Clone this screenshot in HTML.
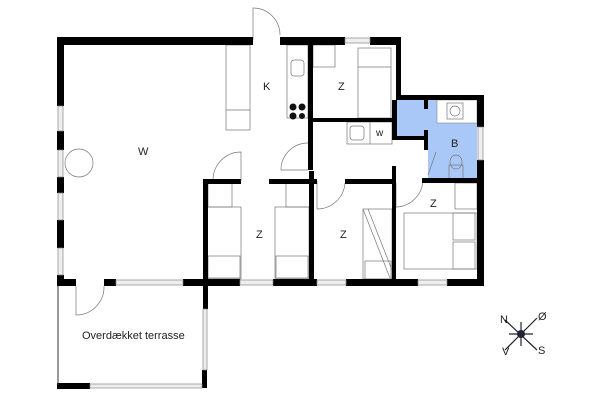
<!DOCTYPE html><html><head><style>body{margin:0;background:#fff}svg{display:block}text{font-family:"Liberation Sans",sans-serif;font-size:11px;fill:#222}</style></head><body>
<svg width="600" height="400" viewBox="0 0 600 400" xmlns="http://www.w3.org/2000/svg">
<path d="M397 100 H477 V179 H428 V137 H397 Z" fill="#a9c8f7"/>
<rect x="437" y="100" width="40" height="23" fill="#fff" stroke="#888" stroke-width=".6"/>
<g fill="none" stroke="#777" stroke-width=".7">
<rect x="226" y="45" width="24" height="85"/><line x1="226" y1="110" x2="250" y2="110"/>
<rect x="287" y="45" width="21" height="73"/><rect x="291" y="60" width="13" height="16" rx="3"/>
<rect x="313" y="45" width="22" height="22"/>
<rect x="358" y="48" width="33" height="70"/><line x1="358" y1="67" x2="391" y2="67"/>
<rect x="347" y="122" width="45" height="22"/><line x1="370" y1="122" x2="370" y2="144"/><rect x="350" y="126" width="14" height="14" rx="3"/>
<rect x="447" y="103" width="16" height="16"/><circle cx="455" cy="111" r="5"/>
<rect x="449" y="165" width="14" height="14"/><ellipse cx="456" cy="162" rx="6" ry="7"/>
<circle cx="79" cy="163" r="14"/>
<rect x="208" y="183" width="24" height="24"/><rect x="207" y="207" width="34" height="72"/><rect x="208" y="256" width="32" height="22"/>
<rect x="286" y="183" width="24" height="24"/><rect x="275" y="207" width="34" height="72"/><rect x="276" y="256" width="32" height="22"/>
<rect x="363" y="209" width="29" height="70"/><line x1="363" y1="209" x2="390" y2="278"/><line x1="368" y1="209" x2="392" y2="270"/><rect x="365" y="261" width="26" height="18"/>
<rect x="455" y="183" width="22" height="26"/><rect x="404" y="213" width="73" height="56"/><rect x="453" y="213" width="22" height="27"/><rect x="453" y="242" width="22" height="27"/>
<path d="M253 40 V8 A27 27 0 0 1 280 35"/>
<path d="M241 181 V152 A28 28 0 0 0 213 180 H241"/>
<path d="M308 170 H281 A27 27 0 0 1 308 143"/>
<path d="M317 181 V209 A28 28 0 0 0 345 183"/>
<path d="M396 183 V207 A28 28 0 0 0 423 180"/>
<path d="M428 175 L436 152"/>
<path d="M76 286 V315 A28 28 0 0 0 104 286"/>
</g>
<g fill="#111"><circle cx="293" cy="107" r="3.5"/><circle cx="302" cy="107" r="3.5"/><circle cx="293" cy="116" r="3.5"/><circle cx="302" cy="116" r="3"/></g>
<g fill="#000">
<rect x="57" y="37" width="196" height="8"/><rect x="280" y="37" width="65" height="8"/><rect x="370" y="37" width="31" height="8"/>
<rect x="57" y="37" width="7" height="69"/><rect x="57" y="131" width="7" height="19"/><rect x="57" y="177" width="7" height="16"/><rect x="57" y="220" width="7" height="28"/><rect x="57" y="275" width="7" height="11"/>
<rect x="57" y="279" width="19" height="7"/><rect x="104" y="279" width="12" height="7"/><rect x="183" y="279" width="57" height="7"/><rect x="273" y="279" width="44" height="7"/><rect x="346" y="279" width="72" height="7"/><rect x="447" y="279" width="37" height="7"/>
<rect x="396" y="37" width="5" height="63"/><rect x="396" y="95" width="88" height="5"/>
<rect x="477" y="95" width="7" height="32"/><rect x="477" y="160" width="7" height="126"/>
<rect x="308" y="45" width="5" height="125"/><rect x="313" y="118" width="80" height="4"/><rect x="392" y="100" width="5" height="40"/><rect x="392" y="136" width="36" height="4"/>
<rect x="424" y="100" width="4" height="9"/><rect x="424" y="130" width="4" height="20"/><rect x="422" y="178" width="62" height="5"/>
<rect x="203" y="179" width="38" height="5"/><rect x="269" y="179" width="48" height="5"/><rect x="345" y="179" width="51" height="5"/>
<rect x="203" y="179" width="5" height="130"/><rect x="309" y="171" width="5" height="115"/><rect x="392" y="166" width="4" height="120"/>
<rect x="202" y="370" width="5" height="18"/><rect x="57" y="383" width="33" height="6"/>
</g>
<g fill="#eee" stroke="#888" stroke-width=".7">
<rect x="58" y="106" width="5" height="25"/><rect x="58" y="150" width="5" height="27"/><rect x="58" y="193" width="5" height="27"/><rect x="58" y="248" width="5" height="27"/>
<rect x="116" y="280" width="67" height="5"/><rect x="240" y="280" width="33" height="5"/><rect x="317" y="280" width="29" height="5"/><rect x="418" y="280" width="29" height="5"/>
<rect x="345" y="38" width="25" height="5"/><rect x="478" y="127" width="5" height="33"/>
<rect x="203" y="309" width="4" height="61"/><rect x="90" y="384" width="112" height="4"/>
</g>
<line x1="58" y1="286" x2="58" y2="385" stroke="#333"/>
<g stroke="#223" stroke-width="1.2"><line x1="505" y1="320" x2="537" y2="350"/><line x1="537" y1="318" x2="505" y2="350"/><line x1="521" y1="322" x2="521" y2="346"/><line x1="509" y1="334" x2="533" y2="334"/></g>
<circle cx="521" cy="334" r="4" fill="#223"/>
<g style="font-size:5px"><text x="500" y="323">N</text><text x="538" y="320">Ø</text><text x="502" y="355">V</text><text x="538" y="354">S</text></g>
<text x="138" y="155">W</text><text x="263" y="90">K</text><text x="338" y="90">Z</text><text x="376" y="136" style="font-size:10px">w</text><text x="451" y="147">B</text>
<text x="256" y="238">Z</text><text x="340" y="238">Z</text><text x="430" y="207">Z</text>
<text x="82" y="339">Overdækket terrasse</text>
</svg></body></html>
